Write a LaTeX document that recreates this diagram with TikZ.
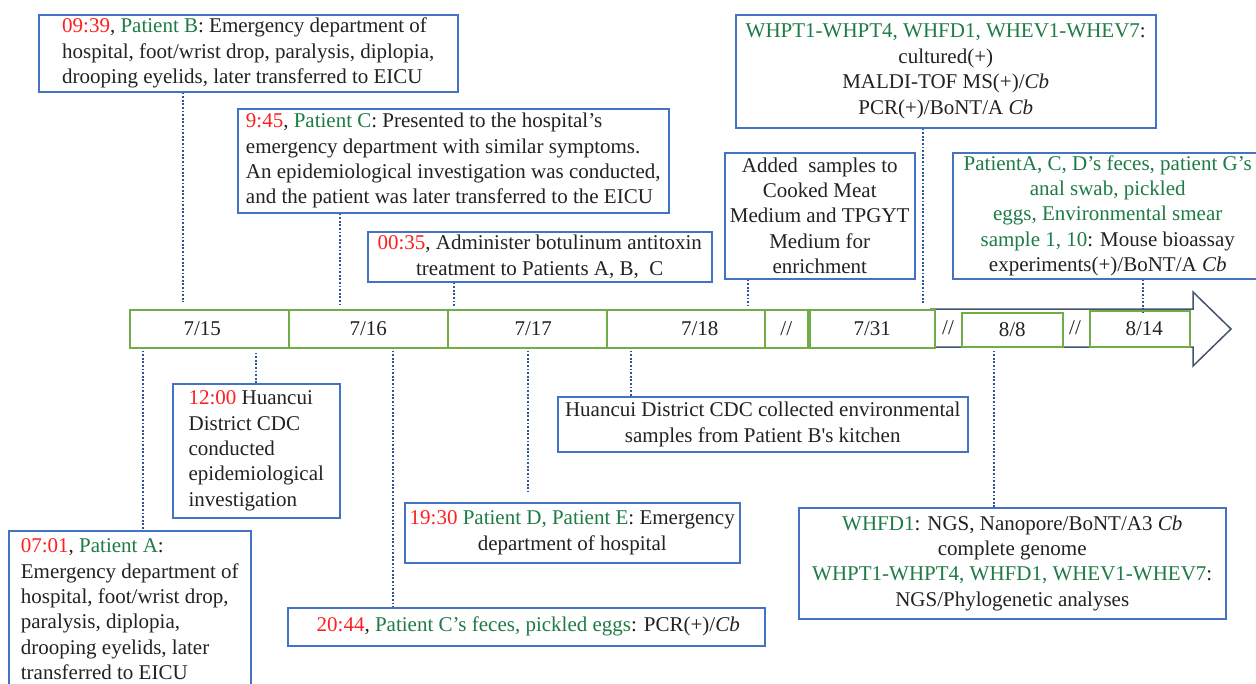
\documentclass[tikz,border=0pt]{standalone}
\usepackage{fontspec}
\setmainfont{Liberation Serif}
\newfontfamily\plainserif{Liberation Serif}
\definecolor{tred}{HTML}{FF1F1F}
\definecolor{tgreen}{HTML}{1E7B45}
\definecolor{tblack}{HTML}{222222}
\definecolor{boxblue}{HTML}{4472C4}
\definecolor{bargreen}{HTML}{70AD47}
\definecolor{arrowgray}{HTML}{44546A}
\definecolor{dotblue}{HTML}{2F5597}
\newcommand{\tr}[1]{\textcolor{tred}{#1}}
\newcommand{\tg}[1]{\textcolor{tgreen}{#1}}
\begin{document}
\begin{tikzpicture}[x=1pt,y=-1pt,
  every node/.style={font=\fontsize{21}{25.4}\selectfont, text=tblack},
  evbox/.style={draw=boxblue, line width=1.5pt, fill=white, inner ysep=0pt, anchor=north west},
  daybox/.style={draw=bargreen, line width=1.5pt, fill=white, anchor=north west, inner sep=0pt, minimum height=38pt},
  tick/.style={draw=dotblue, line width=1.2pt, dash pattern=on 1.8pt off 1.8pt},
]
\useasboundingbox[fill=white] (0,0) rectangle (1256,683);

% ---------- timeline ----------
\draw[arrowgray, line width=1.5pt, fill=white] (930,309) -- (1193,309) -- (1193,292) -- (1231,329) -- (1193,366) -- (1193,347) -- (930,347);
\node[daybox, minimum width=159pt] (d715) at (129,309) {7/15\hspace*{14pt}};
\node[daybox, minimum width=159pt] (d716) at (288,309) {7/16};
\node[daybox, minimum width=159pt] (d717) at (447,309) {\hspace*{12pt}7/17};
\node[daybox, minimum width=158pt] (d718) at (606,309) {\hspace*{28pt}7/18};
\node[daybox, minimum width=43pt] (g1) at (764,309) {//};
\node[daybox, minimum width=125pt] (d731) at (809,309) {7/31};
\node (g2) at (948,328) {//};
\node[daybox, minimum width=101pt, minimum height=34pt] (d88) at (961,312) {8/8};
\node (g3) at (1075,328) {//};
\node[daybox, minimum width=100pt, minimum height=36pt] (d814) at (1089,310) {\hspace*{9pt}8/14};

% ---------- upper events ----------
\node[evbox, minimum width=419pt, minimum height=77pt, inner xsep=0pt, align=left] (B) at (38,14)
 {\tr{09:39}, \tg{Patient B}: Emergency department of\\hospital, foot/wrist drop, paralysis, diplopia,\\drooping eyelids, later transferred to EICU};
\node[evbox, minimum width=431pt, minimum height=104pt, inner xsep=0pt, align=left] (C) at (237,108)
 {\tr{9:45}, \tg{Patient C}: Presented to the hospital’s\\emergency department with similar symptoms.\\An epidemiological investigation was conducted,\\and the patient was later transferred to the EICU};
\node[evbox, minimum width=344pt, minimum height=50pt, inner xsep=2pt, align=center] (T) at (367,231)
 {\tr{00:35}, Administer botulinum antitoxin\\treatment to Patients A, B,~~C};
\node[evbox, minimum width=190pt, minimum height=126pt, inner xsep=1pt, align=center] (Add) at (724,152)
 {Added~~samples to\\Cooked Meat\\Medium and TPGYT\\Medium for\\enrichment};
\node[evbox, minimum width=420pt, minimum height=113pt, inner xsep=2pt, align=center] (W) at (735,14)
 {\tg{WHPT1-WHPT4, WHFD1, WHEV1-WHEV7}:\\cultured(+)\\MALDI-TOF MS(+)/\textit{Cb}\\PCR(+)/BoNT/A \textit{Cb}};
\node[evbox, minimum width=310pt, minimum height=126pt, inner xsep=1pt, align=center] (P) at (952,152)
 {\tg{PatientA, C, D’s feces, patient G’s}\\\tg{anal swab, pickled}\\\tg{eggs, Environmental smear}\\\tg{sample 1, 10}: Mouse bioassay\\experiments(+)/BoNT/A \textit{Cb}};

% ---------- lower events ----------
\node[evbox, minimum width=167pt, minimum height=134pt, inner xsep=0pt, align=left] (H) at (172,383)
 {\tr{12:00} Huancui\\District CDC\\conducted\\epidemiological\\investigation};
\node[evbox, minimum width=242pt, minimum height=157pt, inner xsep=0pt, align=left] (A) at (8,530)
 {\tr{07:01}, \tg{Patient A}:\\Emergency department of\\hospital, foot/wrist drop,\\paralysis, diplopia,\\drooping eyelids, later\\transferred to EICU};
\node[evbox, minimum width=410pt, minimum height=55pt, inner xsep=1pt, align=center] (K) at (557,396)
 {Huancui District CDC collected environmental\\samples from Patient B{\plainserif'}s kitchen};
\node[evbox, minimum width=335pt, minimum height=60pt, inner xsep=0pt, align=center] (D) at (404,502)
 {\tr{19:30} \tg{Patient D, Patient E}: Emergency\\department of hospital};
\node[evbox, minimum width=477pt, minimum height=38pt, inner xsep=2pt, align=center] (E) at (287,607)
 {\hspace*{4pt}\tr{20:44}, \tg{Patient C’s feces, pickled eggs}: PCR(+)/\textit{Cb}};
\node[evbox, minimum width=427pt, minimum height=111pt, inner xsep=2pt, align=center] (F) at (798,507)
 {\tg{WHFD1}: NGS, Nanopore/BoNT/A3 \textit{Cb}\\complete genome\\\tg{WHPT1-WHPT4, WHFD1, WHEV1-WHEV7}:\\NGS/Phylogenetic analyses};

% ---------- dotted connectors ----------
\coordinate (xB) at (183,0);
\coordinate (xC) at (340,0);
\coordinate (xT) at (454,0);
\coordinate (xAdd) at (748,0);
\coordinate (xW) at (923,0);
\coordinate (xP) at (1143,0);
\coordinate (xA) at (143,0);
\coordinate (xH) at (256,0);
\coordinate (xE) at (393,0);
\coordinate (xD) at (528,0);
\coordinate (xK) at (631,0);
\coordinate (xF) at (994,0);
\draw[tick, shorten >=7pt] (B.south -| xB) -- (d715.north -| xB);
\draw[tick, shorten >=5pt] (C.south -| xC) -- (d716.north -| xC);
\draw[tick, shorten >=3pt] (T.south -| xT) -- (d717.north -| xT);
\draw[tick, shorten >=3pt] (Add.south -| xAdd) -- (d718.north -| xAdd);
\draw[tick, shorten >=6pt] (W.south -| xW) -- (d731.north -| xW);
\draw[tick, shorten >=-3pt] (P.south -| xP) -- (d814.north -| xP);
\draw[tick, shorten <=2pt] (d715.south -| xA) -- (A.north -| xA);
\draw[tick, shorten <=4pt] (d715.south -| xH) -- (H.north -| xH);
\draw[tick, shorten <=2pt] (d716.south -| xE) -- (E.north -| xE);
\draw[tick, shorten <=2pt, shorten >=10pt] (d717.south -| xD) -- (D.north -| xD);
\draw[tick, shorten <=2pt] (d718.south -| xK) -- (K.north -| xK);
\draw[tick, shorten <=3pt] (d88.south -| xF) -- (F.north -| xF);
\end{tikzpicture}
\end{document}
